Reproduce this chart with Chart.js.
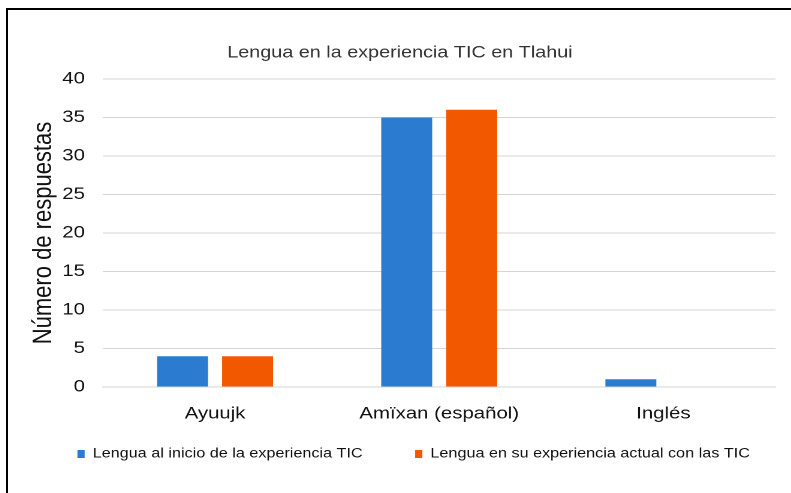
<!DOCTYPE html>
<html>
<head>
<meta charset="utf-8">
<script src="https://cdn.jsdelivr.net/npm/chart.js@4/dist/chart.umd.min.js"></script>
<style>
  html, body { margin: 0; padding: 0; background: #fff; overflow: hidden; }
  #marco {
    position: absolute; left: 6px; top: 8px;
    width: 790px; height: 490px;
    border-top: 2px solid #000; border-left: 2px solid #000;
  }
  /* la imagen original está estirada en horizontal */
  #grafico {
    position: absolute; left: 8px; top: 10px;
    width: 653px; height: 483px;
    transform: scaleX(1.1991); transform-origin: 0 0;
  }
</style>
</head>
<body>
<div id="marco"></div>
<div id="grafico"><canvas id="lenguaChart"></canvas></div>
<script>
// Datos del gráfico
const categorias = ['Ayuujk', 'Amïxan (español)', 'Inglés'];
const nombresSeries = ['Lengua al inicio de la experiencia TIC', 'Lengua en su experiencia actual con las TIC'];
const valoresInicio = [4, 35, 1];
const valoresActual = [4, 36, 0];
const ejeMin = 0;
const ejeMax = 40;
const ejePaso = 5;

const colores = ['#2b7cd0', '#f15800'];
const colorTexto = '#111';
const fuente = "'Liberation Sans', Arial, sans-serif";

const datos = {
    labels: categorias,
    datasets: [
        { label: nombresSeries[0], data: valoresInicio, backgroundColor: colores[0] },
        { label: nombresSeries[1], data: valoresActual, backgroundColor: colores[1] }
    ]
};

const config = {
    type: 'bar',
    data: datos,
    options: {
        responsive: true,
        maintainAspectRatio: false,
        devicePixelRatio: 2,
        animation: false,
        categoryPercentage: 0.58,
        barPercentage: 0.784,
        layout: { padding: { left: 36.6, right: 13, top: 0, bottom: 22.25 } },
        plugins: {
            title: {
                display: true,
                // espacios finales: el título queda un poco a la izquierda del centro
                text: 'Lengua en la experiencia TIC en Tlahui     ',
                color: '#333',
                font: { family: fuente, size: 16.5, weight: 'normal' },
                padding: { top: 33.1, bottom: 16.1 }
            },
            legend: {
                position: 'bottom',
                labels: {
                    color: colorTexto,
                    font: { family: fuente, size: 13.5 },
                    boxWidth: 6,
                    boxHeight: 8,
                    padding: 6.25,
                    // separación amplia entre las dos entradas
                    generateLabels: function (chart) {
                        const items = Chart.defaults.plugins.legend.labels.generateLabels(chart);
                        items[0].text = items[0].text + '          ';
                        return items;
                    }
                }
            },
            tooltip: { enabled: false }
        },
        scales: {
            x: {
                grid: { display: false, drawTicks: false },
                border: { color: '#d4d4d4', width: 1 },
                ticks: { color: colorTexto, font: { family: fuente, size: 17 }, padding: 16.8 }
            },
            y: {
                min: ejeMin,
                max: ejeMax,
                ticks: { stepSize: ejePaso, color: colorTexto, font: { family: fuente, size: 17 }, padding: 15 },
                grid: { color: '#d4d4d4', lineWidth: 1, drawTicks: false },
                border: { display: false },
                title: {
                    display: true,
                    text: 'Número de respuestas',
                    color: colorTexto,
                    font: { family: fuente, size: 22 },
                    padding: { top: -19.8, bottom: -12.9 }
                }
            }
        }
    }
};

const lenguaChart = new Chart(document.getElementById('lenguaChart'), config);
</script>
</body>
</html>
